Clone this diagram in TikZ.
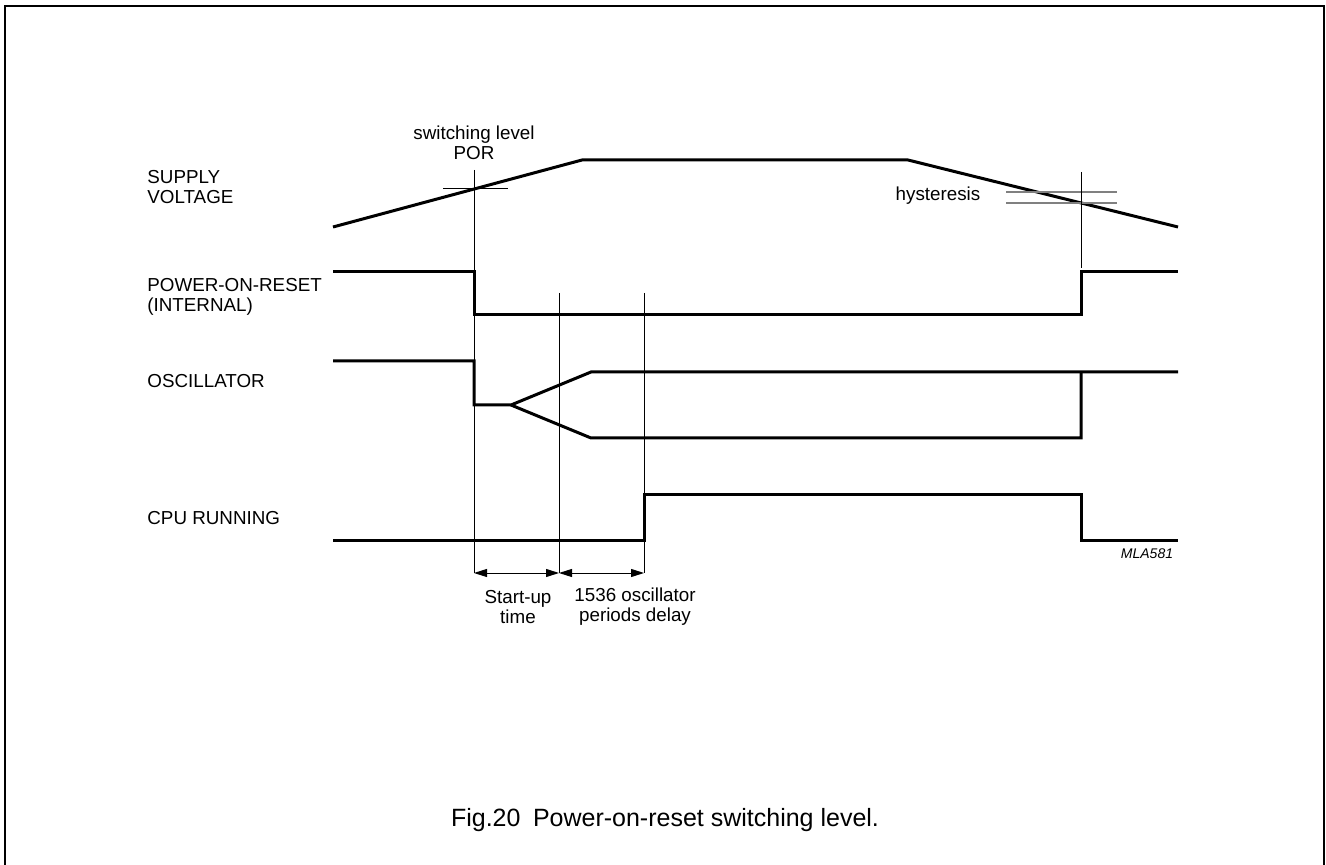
\documentclass[tikz,border=0pt]{standalone}
\usepackage{fontspec}
\setmainfont{Liberation Sans}
\usetikzlibrary{arrows.meta}
\tikzset{
  sig/.style={line width=1.5pt,line join=miter},
  guide/.style={line width=0.5pt},
  hyst/.style={line width=0.6pt,draw=black!50},
  dim/.style={{Triangle[length=6.5pt,width=4pt]}-{Triangle[length=6.5pt,width=4pt]},line width=0.5pt},
  lbl/.style={font=\fontsize{9.4}{10}\selectfont,align=left,inner sep=0pt,anchor=west},
  note/.style={font=\fontsize{9.4}{10}\selectfont,align=center,inner sep=0pt}
}

\begin{document}
\begin{tikzpicture}[x=0.5pt,y=-0.5pt]
  \useasboundingbox (0,0) rectangle (1326,865);
  \draw[line width=1pt] (5,865) -- (5,6) -- (1324,6) -- (1324,865);
  % signal names
  \node[lbl] (supply) at (147,187) {SUPPLY\\VOLTAGE};
  \node[lbl] (por) at (147,297) {POWER-ON-RESET\\(INTERNAL)};
  \node[lbl] (osc) at (147,381) {OSCILLATOR};
  \node[lbl] (cpu) at (147,518) {CPU RUNNING};
  % supply voltage
  \draw[sig] (333,227) -- (582,160) -- (908,160) -- (1178,227);
  \draw[guide] (443,189) -- (508,189);
  \draw[hyst] (1006,192) -- (1117,192);
  \draw[hyst] (1006,203) -- (1117,203);
  \node[note] (swlvl) at (474,143) {switching level\\POR};
  \node[note] (hyst) at (938,196) {hysteresis};
  % time markers
  \coordinate (tA) at (474,573);\coordinate (tB) at (559,573);
  \coordinate (tC) at (644,573);
  \draw[guide] (474,170) -- (tA);
  \draw[guide] (559,293) -- (tB);
  \draw[guide] (644,293) -- (tC);
  \draw[guide] (1081,172) -- (1081,268);
  % power-on-reset
  \draw[sig] (333,272) -- (474,272) -- (474,315) -- (1081,315) -- (1081,272) -- (1178,272);
  % oscillator
  \draw[sig] (333,361) -- (474,361) -- (474,405) -- (511,405) -- (591,372) -- (1178,372);
  \draw[sig] (511,405) -- (591,438) -- (1081,438) -- (1081,372);
  % cpu running
  \draw[sig] (333,540) -- (644,540) -- (644,494) -- (1081,494) -- (1081,540) -- (1178,540);
  \node[font=\fontsize{7}{8}\selectfont\itshape,inner sep=0pt] (code) at (1147,554) {MLA581};
  % delays
  \draw[dim] (tA) -- (tB);
  \draw[dim] (tB) -- (tC);
  \node[note] (startup) at (518,607) {Start-up\\time};
  \node[note] (delay) at (635,607) {1536 oscillator\\periods delay};
  \node[font=\fontsize{12.5}{14}\selectfont,inner sep=0pt] (caption) at (665,820) {Fig.20\enspace Power-on-reset switching level.};
\end{tikzpicture}
\end{document}
